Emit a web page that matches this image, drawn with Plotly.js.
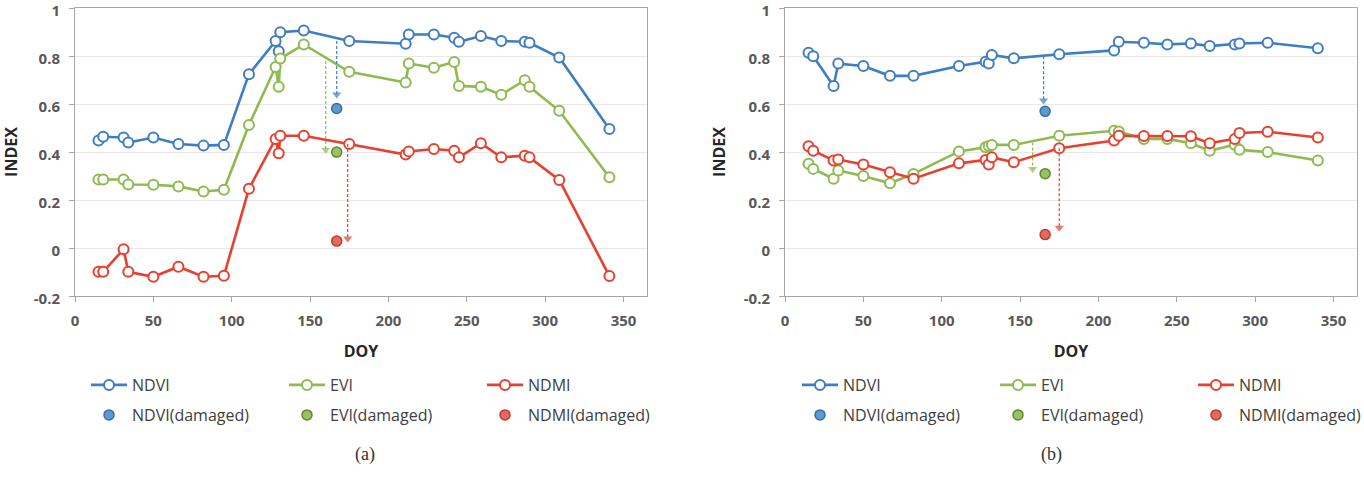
<!DOCTYPE html>
<html>
<head>
<meta charset="utf-8">
<script src="https://cdn.plot.ly/plotly-3.0.1.min.js"></script>
<style>html,body{margin:0;padding:0;background:#fff;}#chart{width:1364px;height:479px;}</style>
</head>
<body>
<div id="chart"></div>
<script>
// ---- Data: panel (a) ----
const doyA  = [15, 18, 31, 34, 50, 66, 82, 95, 111, 128, 130, 131, 146, 175, 211, 213, 229, 242, 245, 259, 272, 287, 290, 309, 341];
const ndviA = [0.448, 0.464, 0.461, 0.44, 0.461, 0.434, 0.427, 0.43, 0.725, 0.863, 0.82, 0.90, 0.907, 0.863, 0.852, 0.89, 0.89, 0.877, 0.86, 0.884, 0.863, 0.86, 0.856, 0.794, 0.496];
const eviA  = [0.286, 0.286, 0.286, 0.265, 0.264, 0.257, 0.236, 0.243, 0.513, 0.755, 0.672, 0.79, 0.849, 0.735, 0.69, 0.769, 0.752, 0.776, 0.676, 0.672, 0.639, 0.70, 0.672, 0.572, 0.295];
const ndmiA = [-0.099, -0.099, -0.005, -0.099, -0.12, -0.078, -0.12, -0.116, 0.247, 0.455, 0.395, 0.468, 0.468, 0.434, 0.39, 0.403, 0.413, 0.406, 0.378, 0.437, 0.378, 0.385, 0.378, 0.284, -0.117];
const dmgDoyA = [167];
const dmgNdviA = [0.582];
const dmgEviA  = [0.40];
const dmgNdmiA = [0.029];
// arrows (x, from, to) panel (a)
const arrNdviA = {x: [167, 167], y: [0.863, 0.64]};
const arrEviA  = {x: [160, 160], y: [0.78, 0.41]};
const arrNdmiA = {x: [174, 174], y: [0.434, 0.04]};

// ---- Data: panel (b) ----
const doyB  = [15, 18, 31, 34, 50, 67, 82, 111, 128, 130, 132, 146, 175, 210, 213, 229, 244, 259, 271, 287, 290, 308, 340];
const ndviB = [0.814, 0.80, 0.676, 0.769, 0.759, 0.718, 0.718, 0.759, 0.777, 0.769, 0.805, 0.791, 0.808, 0.824, 0.86, 0.856, 0.849, 0.853, 0.842, 0.849, 0.853, 0.856, 0.833];
const eviB  = [0.351, 0.33, 0.289, 0.323, 0.30, 0.27, 0.309, 0.403, 0.42, 0.425, 0.43, 0.43, 0.468, 0.489, 0.486, 0.455, 0.455, 0.437, 0.406, 0.431, 0.41, 0.40, 0.365];
const ndmiB = [0.424, 0.406, 0.365, 0.369, 0.348, 0.316, 0.289, 0.353, 0.367, 0.348, 0.378, 0.358, 0.416, 0.448, 0.468, 0.467, 0.467, 0.466, 0.437, 0.455, 0.48, 0.485, 0.461];
const dmgDoyB = [166];
const dmgNdviB = [0.57];
const dmgEviB  = [0.31];
const dmgNdmiB = [0.056];
const arrNdviB = {x: [165, 165], y: [0.80, 0.615]};
const arrEviB  = {x: [158, 158], y: [0.44, 0.33]};
const arrNdmiB = {x: [175, 175], y: [0.416, 0.085]};

const seriesNames = ['NDVI', 'EVI', 'NDMI'];
const dmgNames = ['NDVI(damaged)', 'EVI(damaged)', 'NDMI(damaged)'];
const xTickVals = [0, 50, 100, 150, 200, 250, 300, 350];
const yTickVals = [-0.2, 0, 0.2, 0.4, 0.6, 0.8, 1];
const yTickText = ['-0.2', '0', '0.2', '0.4', '0.6', '0.8', '1'];

// ---- Styles ----
const lineCol = ['#3f7ec3', '#8dbb4f', '#e8402f'];
const dmgFill = ['#5b9bd5', '#9cc163', '#e36a62'];
const dmgLine = ['#3a6ea8', '#5f8a2f', '#c23a2e'];
const FONT = '"Open Sans", Lato, sans-serif';

function lineTrace(x, y, i, xa, ya, leg) {
  return {x: x, y: y, name: seriesNames[i], type: 'scatter', mode: 'lines+markers',
    xaxis: xa, yaxis: ya, legend: leg,
    line: {color: lineCol[i], width: 2.6},
    marker: {symbol: 'circle', size: 10, color: '#ffffff', line: {color: lineCol[i], width: 2}}};
}
function dmgTrace(x, y, i, xa, ya, leg) {
  return {x: x, y: y, name: dmgNames[i], type: 'scatter', mode: 'markers',
    xaxis: xa, yaxis: ya, legend: leg,
    marker: {symbol: 'circle', size: 10, color: dmgFill[i], line: {color: dmgLine[i], width: 1.5}}};
}
function arrowTrace(a, i, xa, ya) {
  return {x: a.x, y: a.y, type: 'scatter', mode: 'lines+markers', showlegend: false, hoverinfo: 'skip',
    xaxis: xa, yaxis: ya,
    line: {color: lineCol[i], width: 1.2, dash: '3px,2px'},
    marker: {symbol: 'triangle-down', size: [0, 8], color: lineCol[i], line: {width: 0}}};
}

const traces = [
  lineTrace(doyA, ndviA, 0, 'x', 'y', 'legend'),
  lineTrace(doyA, eviA, 1, 'x', 'y', 'legend'),
  lineTrace(doyA, ndmiA, 2, 'x', 'y', 'legend'),
  arrowTrace(arrNdviA, 0, 'x', 'y'),
  arrowTrace(arrEviA, 1, 'x', 'y'),
  arrowTrace(arrNdmiA, 2, 'x', 'y'),
  dmgTrace(dmgDoyA, dmgNdviA, 0, 'x', 'y', 'legend2'),
  dmgTrace(dmgDoyA, dmgEviA, 1, 'x', 'y', 'legend2'),
  dmgTrace(dmgDoyA, dmgNdmiA, 2, 'x', 'y', 'legend2'),
  lineTrace(doyB, ndviB, 0, 'x2', 'y2', 'legend3'),
  lineTrace(doyB, eviB, 1, 'x2', 'y2', 'legend3'),
  lineTrace(doyB, ndmiB, 2, 'x2', 'y2', 'legend3'),
  arrowTrace(arrNdviB, 0, 'x2', 'y2'),
  arrowTrace(arrEviB, 1, 'x2', 'y2'),
  arrowTrace(arrNdmiB, 2, 'x2', 'y2'),
  dmgTrace(dmgDoyB, dmgNdviB, 0, 'x2', 'y2', 'legend4'),
  dmgTrace(dmgDoyB, dmgEviB, 1, 'x2', 'y2', 'legend4'),
  dmgTrace(dmgDoyB, dmgNdmiB, 2, 'x2', 'y2', 'legend4')
];

function xAxis(domain, anchor) {
  return {domain: domain, anchor: anchor, range: [0, 365], tickvals: xTickVals,
    ticks: 'outside', ticklen: 5, tickcolor: '#a6a6a6', ticklabelstandoff: 6,
    showline: true, linecolor: '#a6a6a6', linewidth: 1, mirror: true,
    showgrid: false, zeroline: false, automargin: false,
    tickfont: {family: FONT, size: 15, color: '#595959', weight: 'bold'},
    title: {text: 'DOY', standoff: 16, font: {family: FONT, size: 16, color: '#262626', weight: 'bold'}}};
}
function yAxis(domain, anchor) {
  return {domain: domain, anchor: anchor, range: [-0.2, 1.0008], tickvals: yTickVals, ticktext: yTickText,
    ticks: 'outside', ticklen: 5, tickcolor: '#a6a6a6', ticklabelstandoff: 6, ticklabeloverflow: 'allow',
    ticklabelshift: 3,
    showline: true, linecolor: '#a6a6a6', linewidth: 1, mirror: true,
    showgrid: true, gridcolor: '#e8e8e8', gridwidth: 1, zeroline: false, automargin: false,
    tickfont: {family: FONT, size: 15, color: '#595959', weight: 'bold'},
    title: {text: 'INDEX', standoff: 14, font: {family: FONT, size: 16, color: '#262626', weight: 'bold'}}};
}
function legendCfg(x, y) {
  return {orientation: 'h', x: x, y: y, xanchor: 'left', yanchor: 'middle',
    itemwidth: 36, entrywidth: 147, entrywidthmode: 'pixels', bgcolor: 'rgba(0,0,0,0)', borderwidth: 0,
    font: {family: FONT, size: 16, color: '#404040'}};
}

const W = 1364, H = 479;
const layout = {
  width: W, height: H,
  margin: {l: 0, r: 0, t: 0, b: 0, autoexpand: false},
  paper_bgcolor: '#ffffff', plot_bgcolor: '#ffffff',
  xaxis: xAxis([75 / W, 647 / W], 'y'),
  yaxis: yAxis([(H - 296) / H, (H - 8) / H], 'x'),
  xaxis2: xAxis([785 / W, 1357 / W], 'y2'),
  yaxis2: yAxis([(H - 296) / H, (H - 8) / H], 'x2'),
  legend: legendCfg(86 / W, (H - 385) / H),
  legend2: legendCfg(86 / W, (H - 415) / H),
  legend3: legendCfg(797 / W, (H - 385) / H),
  legend4: legendCfg(797 / W, (H - 415) / H),
  annotations: [
    {text: '(a)', xref: 'paper', yref: 'paper', x: 353 / W, y: (H - 467) / H, showarrow: false,
     font: {family: '"Liberation Serif", serif', size: 18, color: '#333333'}},
    {text: '(b)', xref: 'paper', yref: 'paper', x: 1064 / W, y: (H - 467) / H, showarrow: false,
     font: {family: '"Liberation Serif", serif', size: 18, color: '#333333'}}
  ],
  showlegend: true
};

Plotly.newPlot('chart', traces, layout, {displayModeBar: false, staticPlot: true});
</script>
</body>
</html>
